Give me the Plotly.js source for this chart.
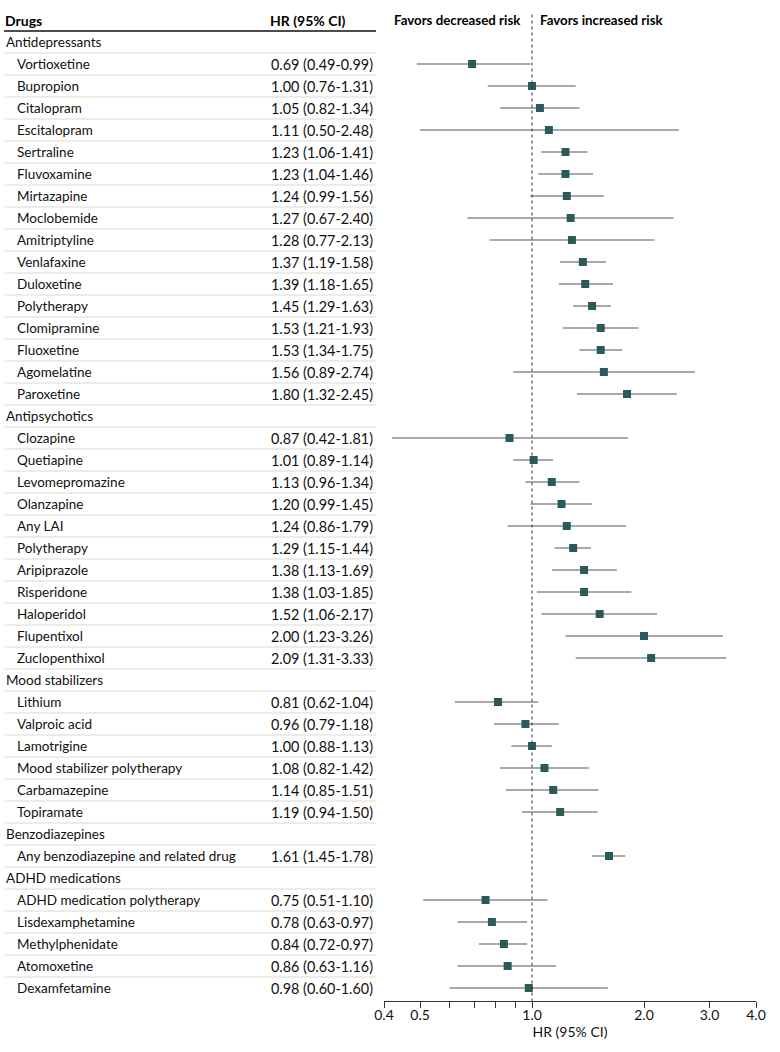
<!DOCTYPE html>
<html>
<head>
<meta charset="utf-8">
<script src="https://cdn.plot.ly/plotly-3.0.1.min.js"></script>
<style>html,body{margin:0;padding:0;background:#fff;} #chart{width:780px;height:1052px;}</style>
</head>
<body>
<div id="chart"></div>
<script>
// ---- Data ----
const groupNames = ["Antidepressants", "Antipsychotics", "Mood stabilizers", "Benzodiazepines", "ADHD medications"];
const drugNames = [
  "Vortioxetine","Bupropion","Citalopram","Escitalopram","Sertraline","Fluvoxamine","Mirtazapine","Moclobemide",
  "Amitriptyline","Venlafaxine","Duloxetine","Polytherapy","Clomipramine","Fluoxetine","Agomelatine","Paroxetine",
  "Clozapine","Quetiapine","Levomepromazine","Olanzapine","Any LAI","Polytherapy","Aripiprazole","Risperidone",
  "Haloperidol","Flupentixol","Zuclopenthixol",
  "Lithium","Valproic acid","Lamotrigine","Mood stabilizer polytherapy","Carbamazepine","Topiramate",
  "Any benzodiazepine and related drug",
  "ADHD medication polytherapy","Lisdexamphetamine","Methylphenidate","Atomoxetine","Dexamfetamine"
];
const drugGroup = [
  0,0,0,0,0,0,0,0,0,0,0,0,0,0,0,0,
  1,1,1,1,1,1,1,1,1,1,1,
  2,2,2,2,2,2,
  3,
  4,4,4,4,4
];
const hr = [
  0.69,1.00,1.05,1.11,1.23,1.23,1.24,1.27,1.28,1.37,1.39,1.45,1.53,1.53,1.56,1.80,
  0.87,1.01,1.13,1.20,1.24,1.29,1.38,1.38,1.52,2.00,2.09,
  0.81,0.96,1.00,1.08,1.14,1.19,
  1.61,
  0.75,0.78,0.84,0.86,0.98
];
const ciLow = [
  0.49,0.76,0.82,0.50,1.06,1.04,0.99,0.67,0.77,1.19,1.18,1.29,1.21,1.34,0.89,1.32,
  0.42,0.89,0.96,0.99,0.86,1.15,1.13,1.03,1.06,1.23,1.31,
  0.62,0.79,0.88,0.82,0.85,0.94,
  1.45,
  0.51,0.63,0.72,0.63,0.60
];
const ciHigh = [
  0.99,1.31,1.34,2.48,1.41,1.46,1.56,2.40,2.13,1.58,1.65,1.63,1.93,1.75,2.74,2.45,
  1.81,1.14,1.34,1.45,1.79,1.44,1.69,1.85,2.17,3.26,3.33,
  1.04,1.18,1.13,1.42,1.51,1.50,
  1.78,
  1.10,0.97,0.97,1.16,1.60
];
const tickVals = [0.4,0.5,0.6,0.7,0.8,0.9,1,2,3,4];
const tickText = ["0.4","0.5","","","","","1.0","2.0","3.0","4.0"];

// ---- Build rows ----
const rows = [];
let prevGroup = -1;
drugNames.forEach((name, i) => {
  if (drugGroup[i] !== prevGroup) {
    rows.push({type: "group", label: groupNames[drugGroup[i]]});
    prevGroup = drugGroup[i];
  }
  rows.push({type: "drug", label: name, idx: i});
});
const nRows = rows.length;

const W = 780;
const px = v => v / W;
const FONT = "Lato, 'Open Sans', sans-serif";
const TXT = "#111";
const NAME_SIZE = 13.5, NUM_SIZE = 14.4, HEAD_SIZE = 13.3;

const annotations = [];
const shapes = [];
const ptX = [], ptY = [], errPlus = [], errMinus = [];

rows.forEach((r, k) => {
  if (r.type === "group") {
    annotations.push({xref: "paper", yref: "y", x: px(4), y: k, xanchor: "left", yanchor: "middle",
      text: r.label, showarrow: false, font: {family: FONT, size: NAME_SIZE, color: TXT}});
  } else {
    const i = r.idx;
    annotations.push({xref: "paper", yref: "y", x: px(15), y: k, xanchor: "left", yanchor: "middle",
      text: r.label, showarrow: false, font: {family: FONT, size: NAME_SIZE, color: TXT}});
    annotations.push({xref: "paper", yref: "y", x: px(375), y: k, xanchor: "right", yanchor: "middle",
      text: hr[i].toFixed(2) + " (" + ciLow[i].toFixed(2) + "-" + ciHigh[i].toFixed(2) + ")",
      showarrow: false, font: {family: FONT, size: NUM_SIZE, color: TXT}});
    ptX.push(hr[i]); ptY.push(k);
    errPlus.push(ciHigh[i] - hr[i]); errMinus.push(hr[i] - ciLow[i]);
  }
  if (k < nRows - 1) {
    shapes.push({type: "line", xref: "paper", yref: "y", x0: px(5), x1: px(376), y0: k + 0.5, y1: k + 0.5,
      line: {color: "#dcd9d2", width: 1}});
  }
});

// headers
annotations.push({xref: "paper", yref: "y", x: px(3), y: -1, xanchor: "left", yanchor: "middle",
  text: "<b>Drugs</b>", showarrow: false, font: {family: FONT, size: 14, color: "#000"}});
annotations.push({xref: "paper", yref: "y", x: px(268), y: -1, xanchor: "left", yanchor: "middle",
  text: "<b>HR (95% CI)</b>", showarrow: false, font: {family: FONT, size: 14, color: "#000"}});
// log axis: annotation x given as log10 of the value 1
annotations.push({xref: "x", yref: "y", x: Math.log10(1), y: -1, xanchor: "right", yanchor: "middle", xshift: -9,
  text: "<b>Favors decreased risk</b>", showarrow: false, font: {family: FONT, size: HEAD_SIZE, color: "#000"}});
annotations.push({xref: "x", yref: "y", x: Math.log10(1), y: -1, xanchor: "left", yanchor: "middle", xshift: 6,
  text: "<b>Favors increased risk</b>", showarrow: false, font: {family: FONT, size: HEAD_SIZE, color: "#000"}});

// header rule
shapes.push({type: "line", xref: "paper", yref: "y", x0: px(4), x1: px(376), y0: -0.5, y1: -0.5,
  line: {color: "#111", width: 1.5}});
// reference line at HR = 1
shapes.push({type: "line", xref: "x", yref: "y", x0: 1, x1: 1, y0: -1.25, y1: nRows - 1 + 0.59,
  line: {color: "#333", width: 1, dash: "dot"}});

const trace = {
  type: "scatter", mode: "markers", x: ptX, y: ptY,
  marker: {symbol: "square", size: 8, color: "#2a5a5a"},
  error_x: {type: "data", symmetric: false, array: errPlus, arrayminus: errMinus,
    color: "#555", thickness: 1.2, width: 0},
  hoverinfo: "skip", showlegend: false
};

const layout = {
  width: 780, height: 1052,
  margin: {l: 0, r: 0, t: 9, b: 51},
  paper_bgcolor: "#fff", plot_bgcolor: "#fff",
  showlegend: false,
  xaxis: {
    type: "log", range: [Math.log10(0.4), Math.log10(4)], domain: [384 / 780, 756 / 780],
    tickmode: "array", tickvals: tickVals, ticktext: tickText,
    showline: true, linecolor: "#333", linewidth: 1,
    ticks: "outside", ticklen: 6, tickcolor: "#333", tickwidth: 1,
    ticklabelstandoff: -5,
    showgrid: false, zeroline: false,
    tickfont: {family: FONT, size: 14, color: TXT},
    title: {text: "HR (95% CI)", font: {family: FONT, size: 14, color: TXT}, standoff: 3}
  },
  yaxis: {
    range: [nRows - 1 + 0.59, -1.5], showticklabels: false, showgrid: false, zeroline: false,
    showline: false, ticks: ""
  },
  annotations: annotations,
  shapes: shapes
};

Plotly.newPlot("chart", [trace], layout, {displayModeBar: false, staticPlot: true});
</script>
</body>
</html>
